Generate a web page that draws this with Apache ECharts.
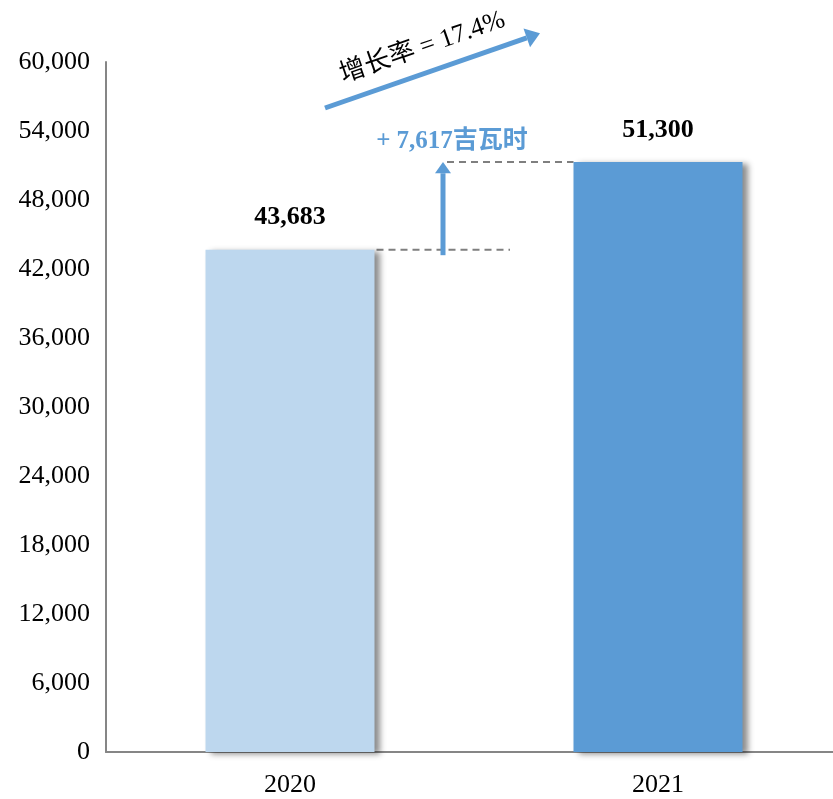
<!DOCTYPE html>
<html>
<head>
<meta charset="utf-8">
<script src="https://cdn.jsdelivr.net/npm/echarts@6/dist/echarts.min.js"></script>
<style>
  html, body { margin: 0; padding: 0; background: #fff; overflow: hidden; }
  #main { width: 842px; height: 799px; }
</style>
</head>
<body>
<div id="main"></div>
<script>
// 数据
const years = ['2020', '2021'];
const values = [43683, 51300];
const barColors = ['#BDD7EE', '#5B9BD5'];
const growthText = '增长率 = 17.4%';
const diffText = '+ 7,617吉瓦时';

const chart = echarts.init(document.getElementById('main'));
const serif = '"Liberation Serif", "Times New Roman", "Noto Sans CJK SC", serif';
const blue = '#5B9BD5';

chart.setOption({
  animation: false,
  grid: { left: 106, right: 0, top: 62, bottom: 47 },
  xAxis: {
    type: 'category',
    data: years,
    axisLine: { lineStyle: { color: '#868686', width: 2 } },
    axisTick: { show: false },
    axisLabel: { color: '#000', fontFamily: serif, fontSize: 26, margin: 20 }
  },
  yAxis: {
    type: 'value',
    min: 0,
    max: 60000,
    interval: 6000,
    axisLine: { show: true, lineStyle: { color: '#868686', width: 2 } },
    axisTick: { show: false },
    splitLine: { show: false },
    axisLabel: {
      color: '#000', fontFamily: serif, fontSize: 26, margin: 16,
      formatter: v => v.toLocaleString('en-US')
    }
  },
  series: [{
    type: 'bar',
    barWidth: 169,
    data: values.map((v, i) => ({
      value: v,
      itemStyle: { color: barColors[i] }
    })),
    itemStyle: {
      shadowColor: 'rgba(0,0,0,0.45)',
      shadowBlur: 6,
      shadowOffsetX: 5,
      shadowOffsetY: 2
    },
    label: {
      show: true,
      position: 'top',
      distance: 19,
      color: '#000',
      fontFamily: serif,
      fontSize: 26,
      fontWeight: 'bold',
      formatter: p => p.value.toLocaleString('en-US')
    }
  }]
});

// 注释：虚线、箭头、文字，位置由坐标轴换算
function px(cat, val) {
  return chart.convertToPixel({ seriesIndex: 0 }, [cat, val]);
}
const p0 = px(0, values[0]);
const p1 = px(1, values[1]);
const halfBar = 169 / 2;
const arrowX = p0[0] + 153;
const dash = { stroke: '#7f7f7f', lineWidth: 2, lineDash: [7, 5] };

// 斜箭头：起点和终点
const a0 = [p0[0] + 35, px(0, 56000)[1]];
const a1 = [p1[0] - 118, px(0, 62500)[1]];
const ang = Math.atan2(a0[1] - a1[1], a1[0] - a0[0]);

function arrow(from, to, w, head) {
  const dx = to[0] - from[0], dy = to[1] - from[1];
  const len = Math.sqrt(dx * dx + dy * dy);
  const ux = dx / len, uy = dy / len;
  const bx = to[0] - ux * head * 1.4, by = to[1] - uy * head * 1.4;
  return [
    { type: 'line', shape: { x1: from[0], y1: from[1], x2: bx, y2: by },
      style: { stroke: blue, lineWidth: w } },
    { type: 'polygon', shape: { points: [
        to, [bx - uy * head, by + ux * head], [bx + uy * head, by - ux * head]] },
      style: { fill: blue } }
  ];
}

chart.setOption({
  graphic: [
    { type: 'line', shape: { x1: p0[0] + halfBar + 2, y1: p0[1], x2: p0[0] + 220, y2: p0[1] }, style: dash },
    { type: 'line', shape: { x1: arrowX + 4, y1: p1[1], x2: p1[0] - halfBar, y2: p1[1] }, style: dash },
    ...arrow([arrowX, px(0, 43200)[1]], [arrowX, p1[1]], 5, 8),
    ...arrow(a0, a1, 5, 10),
    { type: 'text', x: arrowX + 9, y: p1[1] - 21,
      style: { text: diffText, fill: blue, font: 'bold 25px ' + serif,
               align: 'center', verticalAlign: 'middle' } },
    { type: 'text', x: (a0[0] + a1[0]) / 2 - 10, y: (a0[1] + a1[1]) / 2 - 23,
      rotation: ang, originX: 0, originY: 0,
      style: { text: growthText, fill: '#000', font: '26px ' + serif,
               align: 'center', verticalAlign: 'middle' } }
  ]
});
</script>
</body>
</html>
